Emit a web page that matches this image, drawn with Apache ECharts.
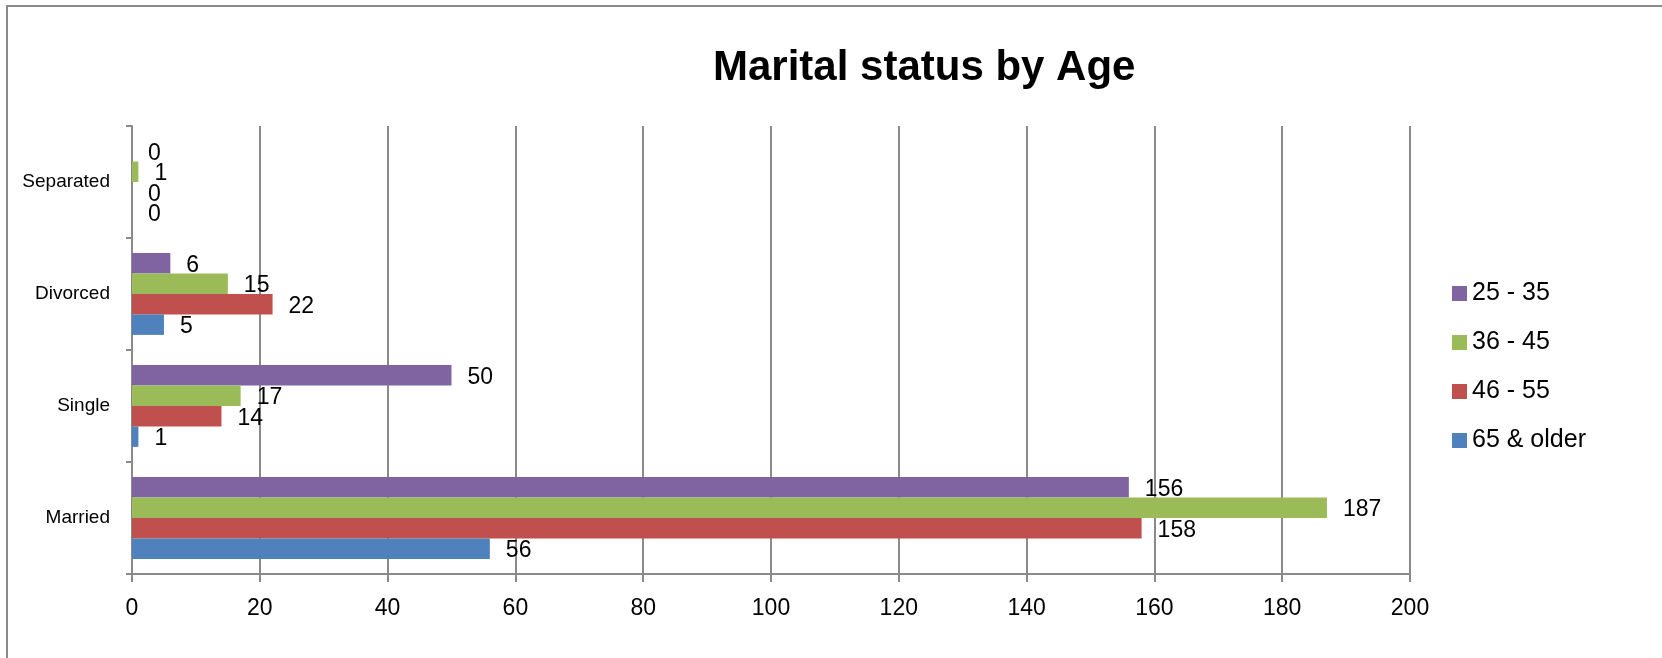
<!DOCTYPE html>
<html>
<head>
<meta charset="utf-8">
<script src="https://cdn.jsdelivr.net/npm/echarts@6/dist/echarts.min.js"></script>
<style>
  html, body { margin: 0; padding: 0; background: #fff; }
  #main { width: 1662px; height: 658px; }
</style>
</head>
<body>
<div id="main"></div>
<script>
var categories = ["Married", "Single", "Divorced", "Separated"];
var seriesNames = ["25 - 35", "36 - 45", "46 - 55", "65 & older"];
var age25to35 = [156, 50, 6, 0];
var age36to45 = [187, 17, 15, 1];
var age46to55 = [158, 14, 22, 0];
var age65plus = [56, 1, 5, 0];
var xTicks = [0, 20, 40, 60, 80, 100, 120, 140, 160, 180, 200];

var colors = ["#8064A2", "#9BBB59", "#C0504D", "#4F81BD"];
var values = [age25to35, age36to45, age46to55, age65plus];
var font = "Liberation Sans";
var gray = "#8a8a8a";

var chartDom = document.getElementById("main");
var myChart = echarts.init(chartDom);
var option;

option = {
  animation: false,
  color: colors,
  title: {
    text: "Marital status by Age",
    left: 713,
    top: 47,
    padding: 0,
    textStyle: { fontFamily: font, fontSize: 42, fontWeight: "bold", color: "#000" },
  },
  legend: {
    orient: "vertical",
    left: 1452,
    top: 281,
    padding: 0,
    itemWidth: 15,
    itemHeight: 15,
    itemGap: 24,
    icon: "rect",
    data: seriesNames,
    textStyle: { fontFamily: font, fontSize: 25, color: "#000" },
  },
  grid: { left: 132, right: 252, top: 126, bottom: 84, containLabel: false },
  xAxis: {
    type: "value",
    min: xTicks[0],
    max: xTicks[xTicks.length - 1],
    interval: xTicks[1] - xTicks[0],
    axisLine: { show: true, lineStyle: { color: gray, width: 2 } },
    axisTick: { show: true, length: 8, lineStyle: { color: gray, width: 2 } },
    axisLabel: { margin: 23, fontFamily: font, fontSize: 23, color: "#000" },
    splitLine: { show: true, lineStyle: { color: gray, width: 2 } },
  },
  yAxis: {
    type: "category",
    data: categories,
    axisLine: { show: true, lineStyle: { color: gray, width: 2 } },
    axisTick: { show: true, length: 6, lineStyle: { color: gray, width: 2 } },
    axisLabel: { margin: 22, fontFamily: font, fontSize: 19, color: "#000" },
    splitLine: { show: false },
  },
  graphic: [
    {
      type: "rect",
      shape: { x: 7, y: 6, width: 2000, height: 1000 },
      style: { fill: "none", stroke: gray, lineWidth: 2 },
      silent: true,
    },
  ],
  series: seriesNames.map(function (name, i) {
    return {
      name: name,
      type: "bar",
      data: values[i],
      barGap: "0%",
      barCategoryGap: "27%",
      itemStyle: { color: colors[i] },
      label: {
        show: true,
        position: "right",
        distance: 16,
        offset: [0, 2],
        fontFamily: font,
        fontSize: 23,
        color: "#000",
      },
    };
  }),
};

option && myChart.setOption(option);
</script>
</body>
</html>
